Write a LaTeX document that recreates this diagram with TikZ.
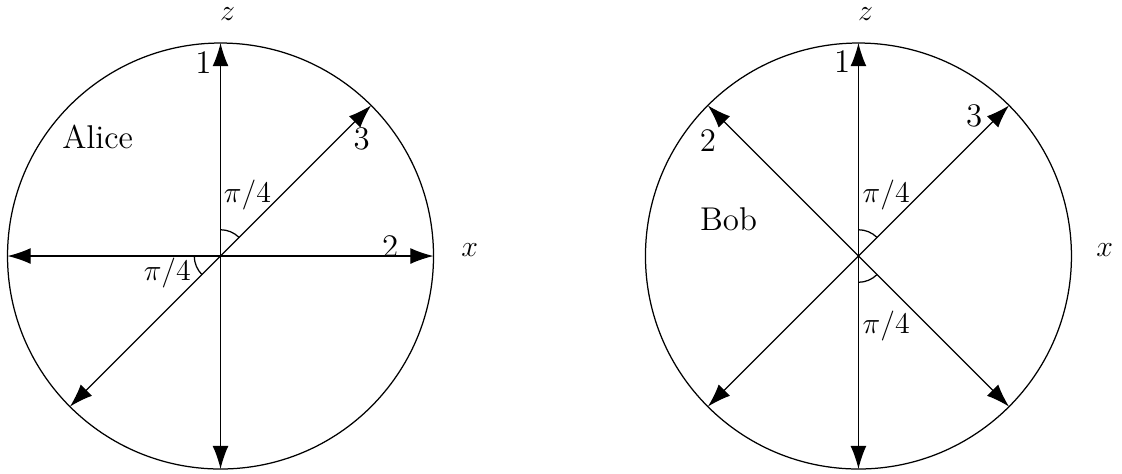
\documentclass[tikz,border=0pt]{standalone}
\usepackage{amsmath}
\usepackage{tikz}
\usetikzlibrary{arrows.meta}

\begin{document}
\begin{tikzpicture}[font=\fontsize{13.2}{16}\selectfont, line width=0.5pt,
    >={Latex[length=9.3pt,width=6.4pt]}]

\useasboundingbox (-3.106,-3.070) rectangle (12.697,3.606);

% Alice
\coordinate (ac) at (0,0);
\coordinate (aN) at (90:3);
\coordinate (aS) at (270:3);
\coordinate (aE) at (0:3);
\coordinate (aW) at (180:3);
\coordinate (aNE) at (45:3);
\coordinate (aSW) at (225:3);

\draw (ac) circle (3);
\draw[<->] (aS) -- (aN);
\draw[<->] (aW) -- (aE);
\draw[<->] (aSW) -- (aNE);
\draw ([shift={(90:0.37)}]ac) arc (90:45:0.37);
\draw ([shift={(180:0.37)}]ac) arc (180:225:0.37);

\node[inner sep=0.5pt] (az) at (0.1,3.41) {$z$};
\node (ax) at (3.51,0.08) {$x$};
\node (a1) at (-0.24,2.73) {1};
\node (a2) at (2.39,0.14) {2};
\node (a3) at (1.99,1.65) {3};
\node (aname) at (-1.73,1.68) {Alice};
\node (aang1) at (0.38,0.86) {$\pi/4$};
\node (aang2) at (-0.75,-0.24) {$\pi/4$};

% Bob
\coordinate (bc) at (8.985,0);
\coordinate (bN) at ([shift={(90:3)}]bc);
\coordinate (bS) at ([shift={(270:3)}]bc);
\coordinate (bNE) at ([shift={(45:3)}]bc);
\coordinate (bSW) at ([shift={(225:3)}]bc);
\coordinate (bNW) at ([shift={(135:3)}]bc);
\coordinate (bSE) at ([shift={(315:3)}]bc);

\draw (bc) circle (3);
\draw[<->] (bS) -- (bN);
\draw[<->] (bSW) -- (bNE);
\draw[<->] (bSE) -- (bNW);
\draw ([shift={(90:0.37)}]bc) arc (90:45:0.37);
\draw ([shift={(270:0.37)}]bc) arc (270:315:0.37);

\node[inner sep=0.5pt] (bz) at ([shift={(0.1,3.41)}]bc) {$z$};
\node (bx) at ([shift={(3.47,0.08)}]bc) {$x$};
\node (b1) at ([shift={(-0.23,2.74)}]bc) {1};
\node (b2) at ([shift={(-2.12,1.63)}]bc) {2};
\node (b3) at ([shift={(1.63,1.97)}]bc) {3};
\node (bname) at ([shift={(-1.83,0.52)}]bc) {Bob};
\node (bang1) at ([shift={(0.39,0.86)}]bc) {$\pi/4$};
\node (bang2) at ([shift={(0.39,-0.99)}]bc) {$\pi/4$};

\end{tikzpicture}
\end{document}
